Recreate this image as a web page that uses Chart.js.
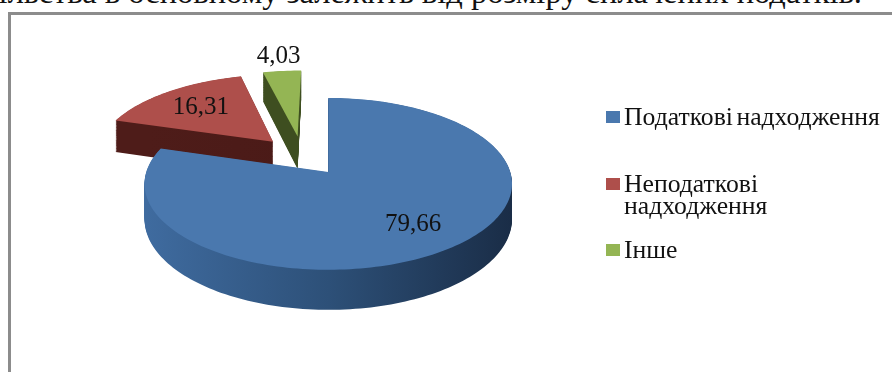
<!DOCTYPE html>
<html lang="uk">
<head>
<meta charset="utf-8">
<title>Структура надходжень</title>
<script src="https://cdn.jsdelivr.net/npm/chart.js@4"></script>
<style>
  html, body { margin: 0; padding: 0; background: #fff; overflow: hidden; }
  body { width: 892px; height: 372px; position: relative; font-family: "Liberation Serif", serif; color: #111; }
  #pageText { position: absolute; right: 30px; top: -22.5px; font-size: 32.5px; line-height: 28px; white-space: nowrap; }
  #frame { position: absolute; left: 8px; top: 12px; width: 900px; height: 400px; border: 3px solid #8c8c8c; box-sizing: border-box; }
  #pie { position: absolute; left: 0; top: 0; }
  .legend-item { position: absolute; left: 606px; font-size: 25.7px; word-spacing: -3px; line-height: 22px; padding-left: 18px; white-space: normal; }
  .legend-item i { position: absolute; left: 0; top: 5px; width: 14px; height: 12px; }
  .legend-item:nth-child(1) { top: 106px; white-space: nowrap; }
  .legend-item:nth-child(2) { top: 173px; width: 200px; }
  .legend-item:nth-child(3) { top: 239px; }
</style>
</head>
<body>
<div id="pageText">ільства в основному залежить від розміру сплачених податків.</div>
<div id="frame"></div>
<canvas id="pie" width="892" height="372"></canvas>
<div id="legend"></div>

<script>
const categories   = ['Податкові надходження', 'Неподаткові надходження', 'Інше'];
const seriesValues = [79.66, 16.31, 4.03];
const topColors    = ['#4a78ae', '#ae4f4b', '#94b554'];
const sideColors   = [
  ['#3f6b9f', '#2d5078', '#1a2d47'],
  ['#4e1c19', '#4a1a17', '#45160f'],
  ['#3e4e20', '#3e4e20', '#3e4e20'],
];

// the picture is a perspective view, the ground plane is mapped to the screen here
const view = { apexX: 328.5, apexY: 172, f: 182, g: 84.3, k: 0.139, shiftX: -0.149, shiftY: 0.2, depth: 34.5 };

function project(x, y, z) {
  const w = 1 + view.k * y;
  return [view.apexX + view.f * x / w, view.apexY - view.g * y / w + z / w];
}

function sectorPath(ctx, arc, z) {
  const b = arc.options.offset / arc.outerRadius;
  const mid = (arc.startAngle + arc.endAngle) / 2;
  const cx = view.shiftX + b * Math.cos(mid);
  const cy = view.shiftY - b * Math.sin(mid);
  const steps = Math.ceil((arc.endAngle - arc.startAngle) * 40);
  ctx.beginPath();
  ctx.moveTo(...project(cx, cy, z));
  for (let i = 0; i <= steps; i++) {
    const a = arc.startAngle + (arc.endAngle - arc.startAngle) * i / steps;
    ctx.lineTo(...project(cx + Math.cos(a), cy - Math.sin(a), z));
  }
  ctx.closePath();
}

const pie3d = {
  id: 'pie3d',
  beforeDatasetDraw(chart, args) {
    const { ctx } = chart;
    const arcs = chart.getDatasetMeta(args.index).data;
    // far slices first, blue one covers them
    [2, 1, 0].forEach(i => {
      const arc = arcs[i];
      const grad = ctx.createLinearGradient(view.apexX - view.f, 0, view.apexX + view.f, 0);
      grad.addColorStop(0, sideColors[i][0]);
      grad.addColorStop(0.5, sideColors[i][1]);
      grad.addColorStop(1, sideColors[i][2]);
      ctx.fillStyle = grad;
      for (let z = view.depth; z > 0; z -= 1) {
        sectorPath(ctx, arc, z);
        ctx.fill();
      }
      ctx.fillStyle = arc.options.backgroundColor;
      sectorPath(ctx, arc, 0);
      ctx.fill();
    });
    return false;
  },
  // returning false above skips afterDatasetDraw, so labels go here
  afterDatasetsDraw(chart, args, opts) {
    const { ctx } = chart;
    const arcs = chart.getDatasetMeta(0).data;
    ctx.save();
    ctx.font = '25px "Liberation Serif"';
    ctx.fillStyle = '#111';
    ctx.textAlign = 'center';
    ctx.textBaseline = 'middle';
    arcs.forEach((arc, i) => {
      const mid = (arc.startAngle + arc.endAngle) / 2;
      const b = arc.options.offset / arc.outerRadius;
      const t = opts.labelRadius[i];
      const p = project(view.shiftX + (b + t) * Math.cos(mid), view.shiftY - (b + t) * Math.sin(mid), 0);
      ctx.fillText(seriesValues[i].toFixed(2).replace('.', ','), p[0], p[1]);
    });
    ctx.restore();
  }
};

new Chart(document.getElementById('pie'), {
  type: 'pie',
  data: {
    labels: categories,
    datasets: [{
      data: seriesValues,
      backgroundColor: topColors,
      borderWidth: 0,
      offset: 41,
    }]
  },
  options: {
    responsive: false,
    animation: false,
    rotation: 0,
    plugins: {
      legend: { display: false },
      tooltip: { enabled: false },
      pie3d: { labelRadius: [0.72, 0.67, 1.26] }
    }
  },
  plugins: [pie3d]
});

document.getElementById('legend').innerHTML = categories.map((c, i) =>
  `<div class="legend-item"><i style="background:${topColors[i]}"></i>${c}</div>`).join('');
</script>
</body>
</html>
